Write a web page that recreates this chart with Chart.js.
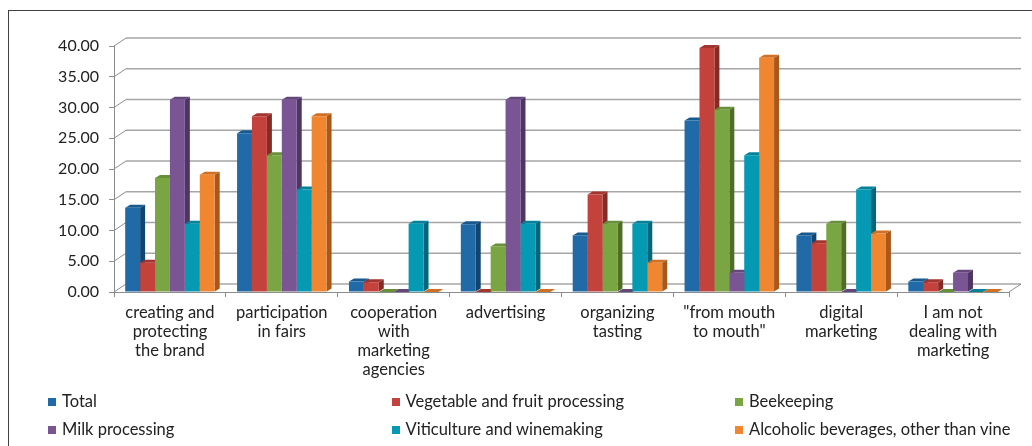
<!DOCTYPE html>
<html>
<head>
<meta charset="utf-8">
<script src="https://cdn.jsdelivr.net/npm/chart.js@4.4.0/dist/chart.umd.min.js"></script>
<style>
    body { margin: 0; background: #fff; }
    #wrap { position: relative; width: 1032px; height: 446px; overflow: hidden; }
    #frame { position: absolute; left: 8px; top: 10px; right: -2px; bottom: -2px;
             border-left: 1px solid #404040; border-top: 1px solid #404040; }
    #legend { position: absolute; left: 48px; top: 391px; display: grid;
              grid-template-columns: 343.5px 343.5px 343.5px; row-gap: 8px;
              font-family: Lato, sans-serif; font-size: 16.5px; color: #222; }
    #legend div { line-height: 20px; white-space: nowrap; }
    #legend span { display: inline-block; width: 8px; height: 8px; margin-right: 6px; vertical-align: 1px; }
</style>
</head>
<body>
<div id="wrap">
    <canvas id="chart" width="1032" height="446"></canvas>
    <div id="frame"></div>
    <div id="legend"></div>
</div>
<script>
// Dữ liệu
const categories = [
    ['creating and', 'protecting', 'the brand'],
    ['participation', 'in fairs'],
    ['cooperation', 'with', 'marketing', 'agencies'],
    ['advertising'],
    ['organizing', 'tasting'],
    ['"from mouth', 'to mouth"'],
    ['digital', 'marketing'],
    ['I am not', 'dealing with', 'marketing']
];
const seriesNames = ['Total', 'Vegetable and fruit processing', 'Beekeeping',
    'Milk processing', 'Viticulture and winemaking', 'Alcoholic beverages, other than vine'];
const total      = [13.7, 25.8, 1.7, 11.0, 9.2, 27.9, 9.2, 1.7];
const vegFruit   = [4.76, 28.57, 1.59, 0, 15.87, 39.68, 7.94, 1.59];
const beekeeping = [18.52, 22.22, 0, 7.41, 11.11, 29.63, 11.11, 0];
const milk       = [31.25, 31.25, 0, 31.25, 0, 3.13, 0, 3.13];
const viticult   = [11.11, 16.67, 11.11, 11.11, 11.11, 22.22, 16.67, 0];
const alcoholic  = [19.05, 28.57, 0, 0, 4.76, 38.10, 9.52, 0];
const yTickValues = [0, 5, 10, 15, 20, 25, 30, 35, 40];

const seriesValues = [total, vegFruit, beekeeping, milk, viticult, alcoholic];
const frontColors = ['#1f6aa7', '#c4423c', '#79a542', '#7a5593', '#0599b4', '#f08630'];
const sideColors  = ['#0f4570', '#862a25', '#4f6d27', '#4f3563', '#03667a', '#a95819'];
const topColors   = ['#195a8e', '#a33530', '#67903a', '#66477c', '#04829a', '#cf7027'];

const DEPTH_X = 5, DEPTH_Y = -3;   // chiều sâu cột
const WALL_X = 12, WALL_Y = -8;    // chiều sâu tường sau

// Vẽ tường sau, sàn và mặt bên / mặt trên của cột
const bar3d = {
    id: 'bar3d',
    beforeDatasetsDraw(chart) {
        const { ctx, chartArea, scales: { y } } = chart;
        ctx.save();
        // lưới ở tường sau
        ctx.lineWidth = 1.6;
        ctx.strokeStyle = '#a6a6a6';
        yTickValues.forEach(v => {
            const py = y.getPixelForValue(v);
            ctx.beginPath();
            ctx.moveTo(chartArea.left + WALL_X, py + WALL_Y);
            ctx.lineTo(chartArea.right + WALL_X, py + WALL_Y);
            ctx.stroke();
        });
        // đường nghiêng bên trái và góc phải của sàn
        ctx.lineWidth = 1;
        ctx.strokeStyle = '#8c8c8c';
        yTickValues.forEach(v => {
            const py = y.getPixelForValue(v);
            ctx.beginPath();
            ctx.moveTo(chartArea.left, py);
            ctx.lineTo(chartArea.left + WALL_X, py + WALL_Y);
            ctx.stroke();
        });
        const base = y.getPixelForValue(0);
        ctx.beginPath();
        ctx.moveTo(chartArea.right, base);
        ctx.lineTo(chartArea.right + WALL_X, base + WALL_Y);
        ctx.stroke();

        const metas = chart.data.datasets.map((ds, i) => chart.getDatasetMeta(i));
        // mặt bên
        metas.forEach((meta, i) => {
            meta.data.forEach(bar => {
                const p = bar.getProps(['x', 'y', 'base', 'width'], true);
                const r = p.x + p.width / 2;
                ctx.fillStyle = sideColors[i];
                ctx.beginPath();
                ctx.moveTo(r, p.y);
                ctx.lineTo(r + DEPTH_X, p.y + DEPTH_Y);
                ctx.lineTo(r + DEPTH_X, p.base + DEPTH_Y);
                ctx.lineTo(r, p.base);
                ctx.closePath();
                ctx.fill();
            });
        });
        // mặt trên
        metas.forEach((meta, i) => {
            meta.data.forEach(bar => {
                const p = bar.getProps(['x', 'y', 'base', 'width'], true);
                const l = p.x - p.width / 2, r = p.x + p.width / 2;
                ctx.fillStyle = topColors[i];
                ctx.beginPath();
                ctx.moveTo(l, p.y);
                ctx.lineTo(r, p.y);
                ctx.lineTo(r + DEPTH_X, p.y + DEPTH_Y);
                ctx.lineTo(l + DEPTH_X, p.y + DEPTH_Y);
                ctx.closePath();
                ctx.fill();
            });
        });
        ctx.restore();
    }
};

const datasets = seriesNames.map((name, i) => ({
    label: name,
    data: seriesValues[i],
    backgroundColor: frontColors[i],
    borderWidth: 0,
    categoryPercentage: 0.8,
    barPercentage: 1.0
}));

new Chart(document.getElementById('chart'), {
    type: 'bar',
    data: { labels: categories, datasets: datasets },
    plugins: [bar3d],
    options: {
        responsive: false,
        animation: false,
        layout: { padding: { left: 0, right: 23, top: 46, bottom: 0 } },
        plugins: { legend: { display: false }, tooltip: { enabled: false } },
        scales: {
            x: {
                grid: { display: true, drawOnChartArea: false, drawTicks: true, tickLength: 5, color: '#8c8c8c' },
                border: { display: true, color: '#8c8c8c', width: 1 },
                ticks: {
                    color: '#222', padding: 6, maxRotation: 0, autoSkip: false,
                    font: { family: 'Lato, sans-serif', size: 16.5, lineHeight: 1.15 }
                },
                afterFit(scale) { scale.height = 154; }
            },
            y: {
                min: 0,
                max: 40,
                afterBuildTicks(scale) { scale.ticks = yTickValues.map(v => ({ value: v })); },
                grid: { display: true, drawOnChartArea: false, drawTicks: true, tickLength: 5, color: '#8c8c8c' },
                border: { display: true, color: '#8c8c8c', width: 1 },
                ticks: {
                    color: '#222', padding: 10,
                    font: { family: 'Lato, sans-serif', size: 16 },
                    callback: function(value) { return Number(value).toFixed(2); }
                },
                afterFit(scale) { scale.width = 114; }
            }
        }
    }
});

// Chú thích dạng 3 cột
const legend = document.getElementById('legend');
seriesNames.forEach((name, i) => {
    const item = document.createElement('div');
    const box = document.createElement('span');
    box.style.backgroundColor = frontColors[i];
    item.appendChild(box);
    item.appendChild(document.createTextNode(name));
    legend.appendChild(item);
});
</script>
</body>
</html>
